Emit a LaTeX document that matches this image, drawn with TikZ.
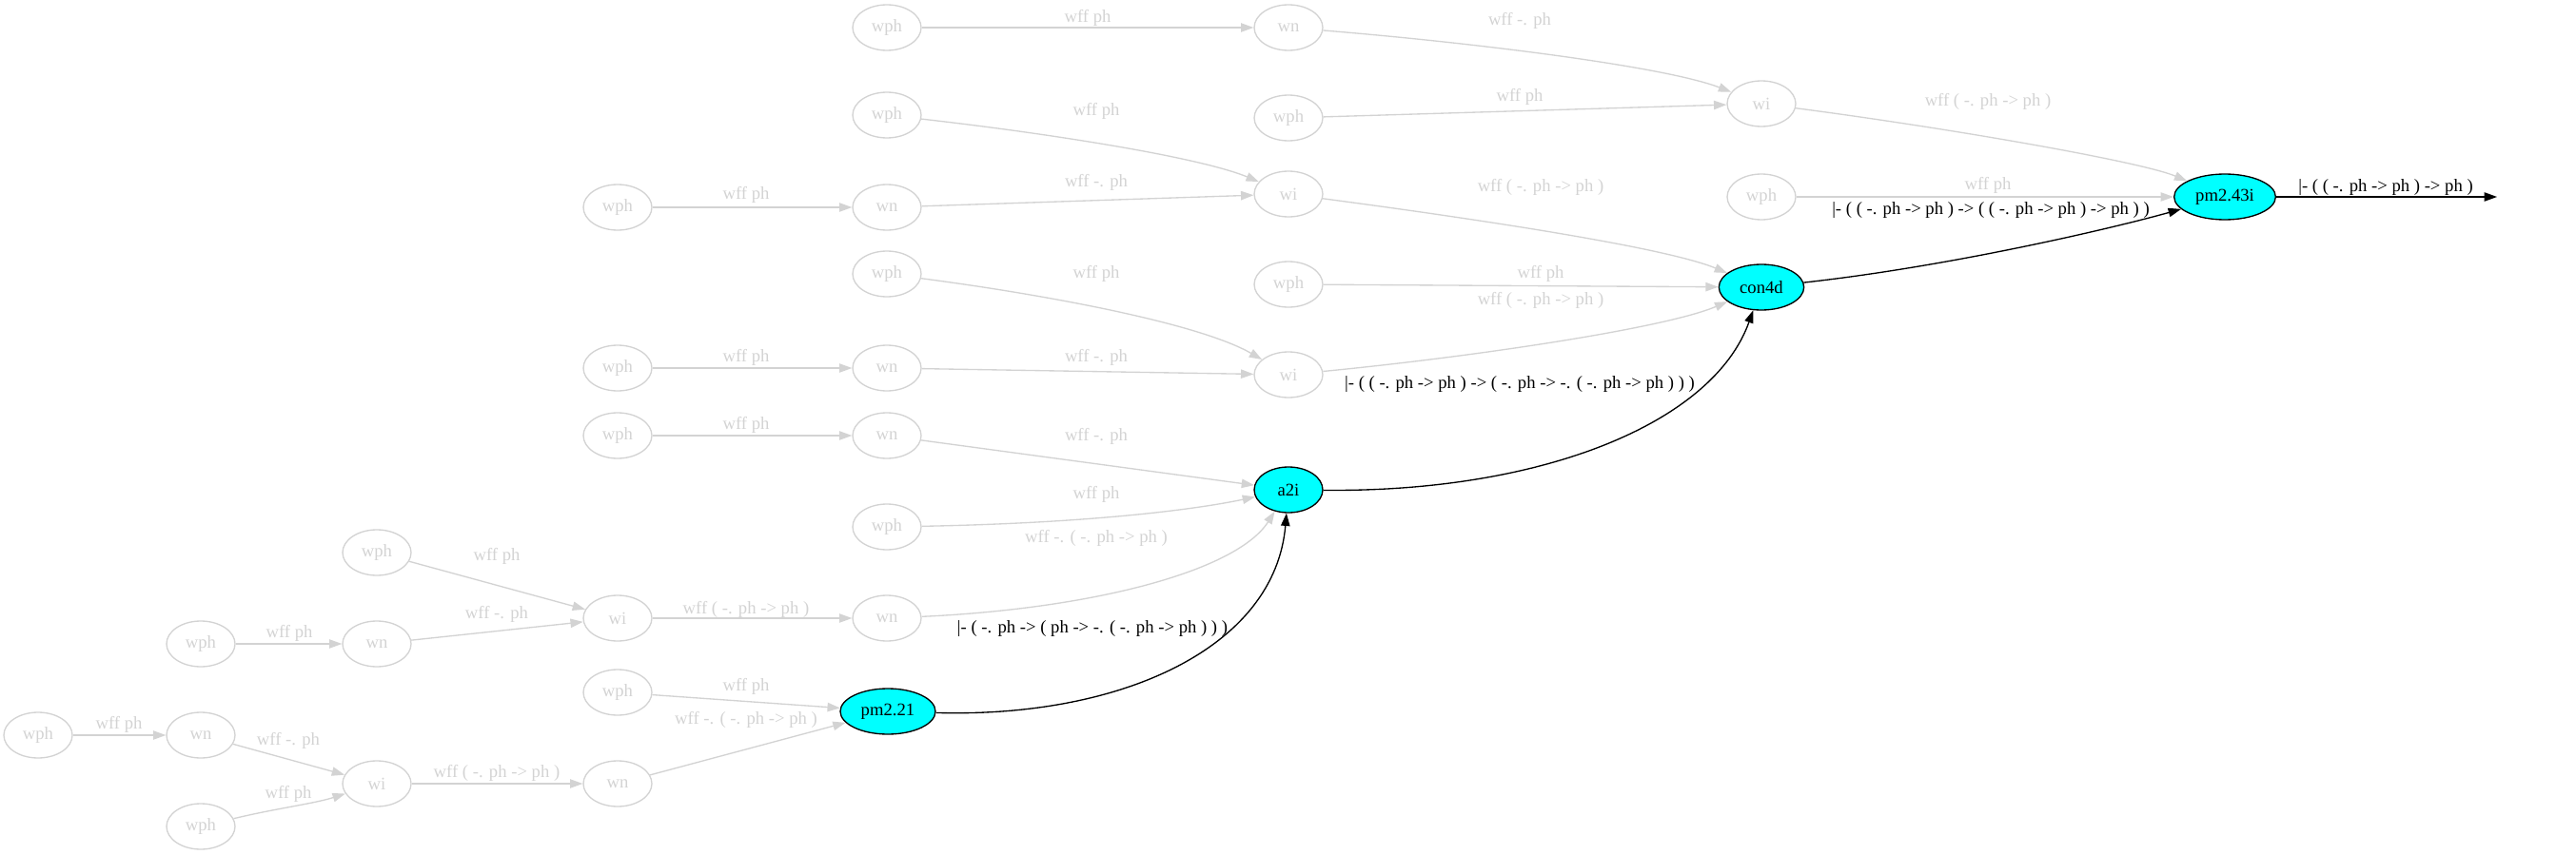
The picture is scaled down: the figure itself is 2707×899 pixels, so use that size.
\documentclass[tikz,border=0pt]{standalone}
\usepackage{fontspec}
\setmainfont{Liberation Serif}
\usetikzlibrary{shapes.geometric,arrows.meta}
\definecolor{lg}{HTML}{D3D3D3}
\definecolor{cy}{HTML}{00FFFF}
\begin{document}
\begin{tikzpicture}[x=0.75pt,y=-0.75pt,
 every node/.style={font=\fontsize{14}{16}\selectfont, inner sep=0pt},
 gnode/.style={ellipse, draw=lg, text=lg, line width=1pt, minimum width=54pt, minimum height=36pt},
 cnode/.style={ellipse, draw=black, fill=cy, text=black, line width=1pt, minimum height=36pt},
 gedge/.style={draw=lg, line width=1pt, -{Triangle[length=10pt,width=7pt]}},
 bedge/.style={draw=black, line width=1pt, -{Triangle[length=10pt,width=7pt]}},
 glab/.style={text=lg},
 blab/.style={text=black}]
\useasboundingbox (0,0) rectangle (2707,899);
% nodes
\node[gnode] (n1) at (932,29) {wph};
\node[gnode] (n2) at (1354,29) {wn};
\node[gnode] (n3) at (1851,109) {wi};
\node[gnode] (n4) at (1354,124) {wph};
\node[cnode, minimum width=80pt] (pm243) at (2338,207) {pm2.43i};
\node[gnode] (n5) at (1851,207) {wph};
\node[gnode] (n6) at (932,121) {wph};
\node[gnode] (n7) at (1354,204) {wi};
\node[gnode] (n8) at (649,218) {wph};
\node[gnode] (n9) at (932,218) {wn};
\node[cnode, minimum width=67pt] (con4d) at (1851,302) {con4d};
\node[gnode] (n10) at (1354,299) {wph};
\node[gnode] (n11) at (932,288) {wph};
\node[gnode] (n12) at (1354,394) {wi};
\node[gnode] (n13) at (649,387) {wph};
\node[gnode] (n14) at (932,387) {wn};
\node[gnode] (n15) at (649,458) {wph};
\node[gnode] (n16) at (932,458) {wn};
\node[cnode, minimum width=54pt] (a2i) at (1354,515) {a2i};
\node[gnode] (n17) at (932,554) {wph};
\node[gnode] (n18) at (932,650) {wn};
\node[gnode] (n19) at (649,650) {wi};
\node[gnode] (n20) at (396,581) {wph};
\node[gnode] (n21) at (396,677) {wn};
\node[gnode] (n22) at (211,677) {wph};
\node[gnode] (n23) at (649,728) {wph};
\node[cnode, minimum width=75pt] (pm221) at (933,748) {pm2.21};
\node[gnode] (n24) at (649,824) {wn};
\node[gnode] (n25) at (396,824) {wi};
\node[gnode] (n26) at (211,773) {wn};
\node[gnode] (n27) at (40,773) {wph};
\node[gnode] (n28) at (211,869) {wph};
\coordinate (end) at (2624,207);
% edges
\draw[gedge] (n1) -- (n2);
\draw[gedge] (n2) .. controls (1550,45) and (1750,70) .. (n3);
\draw[gedge] (n4) -- (n3);
\draw[gedge] (n3) .. controls (2050,135) and (2250,170) .. (pm243);
\draw[gedge] (n5) -- (pm243);
\draw[bedge] (con4d) .. controls (2050,280) and (2220,240) .. (pm243);
\draw[bedge] (pm243) -- (end);
\draw[gedge] (n6) .. controls (1100,140) and (1260,165) .. (n7);
\draw[gedge] (n8) -- (n9);
\draw[gedge] (n9) -- (n7);
\draw[gedge] (n7) .. controls (1550,230) and (1750,260) .. (con4d);
\draw[gedge] (n10) -- (con4d);
\draw[gedge] (n11) .. controls (1100,310) and (1260,340) .. (n12);
\draw[gedge] (n13) -- (n14);
\draw[gedge] (n14) -- (n12);
\draw[gedge] (n12) .. controls (1550,375) and (1750,345) .. (con4d);
\draw[bedge] (a2i) .. controls (1620,518) and (1800,445) .. (con4d);
\draw[gedge] (n15) -- (n16);
\draw[gedge] (n16) -- (a2i);
\draw[gedge] (n17) .. controls (1150,550) and (1260,535) .. (a2i);
\draw[gedge] (n18) .. controls (1150,640) and (1300,600) .. (a2i);
\draw[bedge] (pm221) .. controls (1180,755) and (1340,680) .. (a2i);
\draw[gedge] (n20) -- (n19);
\draw[gedge] (n21) -- (n19);
\draw[gedge] (n22) -- (n21);
\draw[gedge] (n19) -- (n18);
\draw[gedge] (n23) -- (pm221);
\draw[gedge] (n24) -- (pm221);
\draw[gedge] (n27) -- (n26);
\draw[gedge] (n26) -- (n25);
\draw[gedge] (n28) .. controls (290,850) and (330,845) .. (n25);
\draw[gedge] (n25) -- (n24);
% labels
\node[glab] (l1) at (1143,19) {wff ph};
\node[glab] (l2) at (1597,22) {wff -. ph};
\node[glab] (l3) at (1597,102) {wff ph};
\node[glab] (l4) at (2089,107) {wff ( -. ph -> ph )};
\node[glab] (l5) at (1152,117) {wff ph};
\node[glab] (l6) at (784,205) {wff ph};
\node[glab] (l7) at (1152,192) {wff -. ph};
\node[glab] (l8) at (1619,197) {wff ( -. ph -> ph )};
\node[glab] (l9) at (2089,195) {wff ph};
\node[blab] (l10) at (2092,221) {|- ( ( -. ph -> ph ) -> ( ( -. ph -> ph ) -> ph ) )};
\node[blab] (l11) at (2507,197) {|- ( ( -. ph -> ph ) -> ph )};
\node[glab] (l12) at (1619,288) {wff ph};
\node[glab] (l13) at (1619,316) {wff ( -. ph -> ph )};
\node[glab] (l14) at (1152,288) {wff ph};
\node[glab] (l15) at (784,376) {wff ph};
\node[glab] (l16) at (1152,376) {wff -. ph};
\node[blab] (l17) at (1597,404) {|- ( ( -. ph -> ph ) -> ( -. ph -> -. ( -. ph -> ph ) ) )};
\node[glab] (l18) at (784,447) {wff ph};
\node[glab] (l19) at (1152,459) {wff -. ph};
\node[glab] (l20) at (1152,520) {wff ph};
\node[glab] (l21) at (1152,566) {wff -. ( -. ph -> ph )};
\node[glab] (l22) at (522,585) {wff ph};
\node[glab] (l23) at (522,646) {wff -. ph};
\node[glab] (l24) at (304,666) {wff ph};
\node[glab] (l25) at (784,641) {wff ( -. ph -> ph )};
\node[blab] (l26) at (1148,661) {|- ( -. ph -> ( ph -> -. ( -. ph -> ph ) ) )};
\node[glab] (l27) at (784,722) {wff ph};
\node[glab] (l28) at (784,757) {wff -. ( -. ph -> ph )};
\node[glab] (l29) at (125,762) {wff ph};
\node[glab] (l30) at (303,779) {wff -. ph};
\node[glab] (l31) at (303,835) {wff ph};
\node[glab] (l32) at (522,813) {wff ( -. ph -> ph )};
\end{tikzpicture}
\end{document}
